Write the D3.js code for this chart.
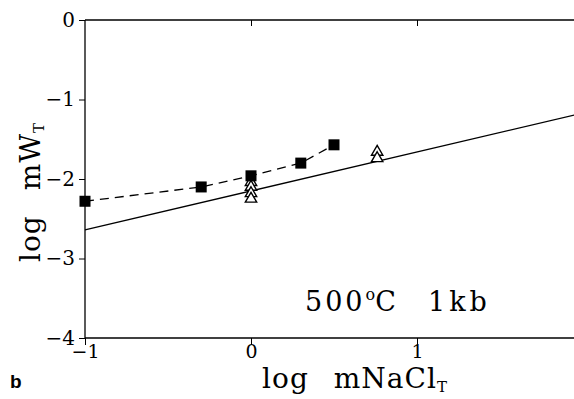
<!DOCTYPE html>
<html>
<head>
<meta charset="utf-8">
<script src="https://cdn.jsdelivr.net/npm/d3@7"></script>
<style>
  body { margin: 0; background: #fff; }
  svg { display: block; }
</style>
</head>
<body>
<div id="chart"></div>
<script>
// data
const squareX = [-1, -0.3, 0, 0.3, 0.5];
const squareY = [-2.28, -2.10, -1.96, -1.80, -1.57];
const triX = [0, 0, 0, 0, 0.76, 0.76];
const triY = [-2.04, -2.10, -2.18, -2.25, -1.66, -1.74];
const fitX = [-1, 2];
const fitY = [-2.64, -1.17];
const xTicks = [-1, 0, 1];
const yTicks = [0, -1, -2, -3, -4];

const W = 574, H = 399;
const svg = d3.select("#chart").append("svg")
    .attr("width", W)
    .attr("height", H);

const x = d3.scaleLinear().domain([-1, 2]).range([85, 583]);
const y = d3.scaleLinear().domain([-4, 0]).range([338, 20]);

const serif = "'DejaVu Serif', 'Liberation Serif', serif";
const minus = d => d < 0 ? "\u2212" + Math.abs(d) : d;

// frame lines
svg.append("line").attr("x1", x(-1)).attr("x2", W).attr("y1", y(0)).attr("y2", y(0))
    .attr("stroke", "#000").attr("stroke-width", 1.3);
svg.append("line").attr("x1", x(-1)).attr("x2", W).attr("y1", y(-4)).attr("y2", y(-4))
    .attr("stroke", "#000").attr("stroke-width", 1.3);
svg.append("line").attr("x1", x(-1)).attr("x2", x(-1)).attr("y1", y(0)).attr("y2", y(-4))
    .attr("stroke", "#000").attr("stroke-width", 1.3);

// bottom axis
const xAxis = svg.append("g")
    .attr("transform", `translate(0,${y(-4)})`)
    .call(d3.axisBottom(x).tickValues(xTicks).tickSize(7).tickPadding(0).tickFormat(minus));
xAxis.select(".domain").remove();
xAxis.selectAll("text").attr("font-family", serif).attr("font-size", 19).attr("fill", "#000");

// top ticks (inside)
svg.append("g")
    .attr("transform", `translate(0,${y(0)})`)
    .call(d3.axisTop(x).tickValues([0, 1]).tickSize(-6).tickFormat(""))
    .select(".domain").remove();

// left axis
const yAxis = svg.append("g")
    .attr("transform", `translate(${x(-1)},0)`)
    .call(d3.axisLeft(y).tickValues(yTicks).tickSize(6).tickPadding(4).tickFormat(minus));
yAxis.select(".domain").remove();
yAxis.selectAll("text").attr("font-family", serif).attr("font-size", 20).attr("fill", "#000");

// fit line
const line = d3.line().x(d => x(d[0])).y(d => y(d[1]));
svg.append("path")
    .datum(fitX.map((d, i) => [d, fitY[i]]))
    .attr("d", line)
    .attr("fill", "none")
    .attr("stroke", "#000")
    .attr("stroke-width", 1.3);

// dashed line through squares
svg.append("path")
    .datum(squareX.map((d, i) => [d, squareY[i]]))
    .attr("d", line)
    .attr("fill", "none")
    .attr("stroke", "#000")
    .attr("stroke-width", 1.3)
    .attr("stroke-dasharray", "9,6");

// triangles
const tri = d3.symbol().type(d3.symbolTriangle).size(56);
svg.selectAll(".tri")
    .data(triX.map((d, i) => [d, triY[i]]))
    .join("path")
    .attr("class", "tri")
    .attr("d", tri)
    .attr("transform", d => `translate(${x(d[0])},${y(d[1])})`)
    .attr("fill", "#fff")
    .attr("stroke", "#000")
    .attr("stroke-width", 1.4);

// squares
svg.selectAll(".sq")
    .data(squareX.map((d, i) => [d, squareY[i]]))
    .join("rect")
    .attr("class", "sq")
    .attr("x", d => x(d[0]) - 5.5)
    .attr("y", d => y(d[1]) - 5.5)
    .attr("width", 11)
    .attr("height", 11)
    .attr("fill", "#000");

// annotation
const ann = svg.append("text")
    .attr("y", 311)
    .attr("font-family", serif).attr("font-size", 27);
ann.append("tspan").attr("x", 305).attr("letter-spacing", 3).text("500");
ann.append("tspan").attr("dy", -11).attr("font-size", 16).text("o");
ann.append("tspan").attr("dy", 11).text("C");
ann.append("tspan").attr("x", 428).attr("letter-spacing", 4).text("1kb");

// x label
const xl = svg.append("text")
    .attr("x", 355).attr("y", 388)
    .attr("text-anchor", "middle")
    .attr("font-family", serif).attr("font-size", 28)
    .attr("letter-spacing", 1);
xl.append("tspan").text("log\u2002 mNaCl");
xl.append("tspan").attr("dy", 4).attr("font-size", 15).text("T");

// y label
const yl = svg.append("text")
    .attr("transform", "translate(40,192) rotate(-90)")
    .attr("text-anchor", "middle")
    .attr("font-family", serif).attr("font-size", 28)
    .attr("letter-spacing", 1);
yl.append("tspan").text("log\u2002 mW");
yl.append("tspan").attr("dy", 4).attr("font-size", 15).text("T");

// panel letter
svg.append("text")
    .attr("x", 10).attr("y", 388)
    .attr("font-family", "'Liberation Sans', Arial, sans-serif")
    .attr("font-size", 19).attr("font-weight", "bold")
    .text("b");
</script>
</body>
</html>
